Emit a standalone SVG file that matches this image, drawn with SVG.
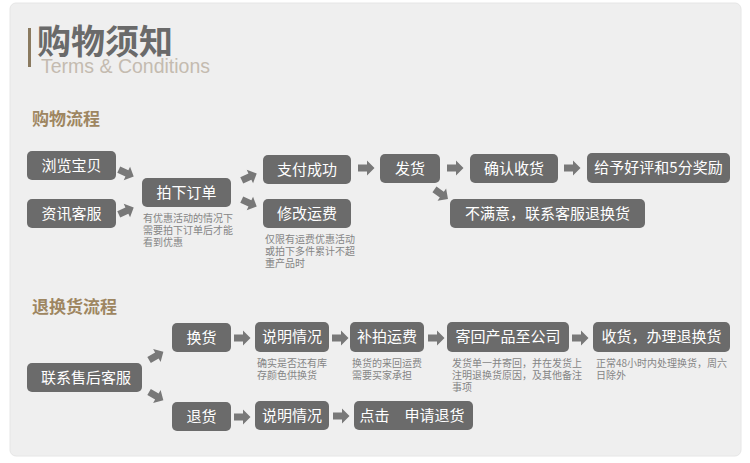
<svg xmlns="http://www.w3.org/2000/svg" width="750" height="463" viewBox="0 0 750 463">
<style>
.box{fill:#6b6b6b}
.bt{font-family:"Noto Sans CJK SC","Noto Sans",sans-serif;font-size:15px;fill:#ffffff;text-anchor:middle}
.note{font-family:"Noto Sans CJK SC","Noto Sans",sans-serif;font-size:10px;fill:#858585}
.sec{font-family:"Noto Sans CJK SC","Noto Sans",sans-serif;font-size:17px;font-weight:bold;fill:#9e8661}
.arr{fill:#787878}
</style>
<defs>
<path id="a" d="M-8,-3.5 L1,-3.5 L1,-7.5 L8.5,0 L1,7.5 L1,3.5 L-8,3.5 Z"/>
</defs>
<rect x="0" y="0" width="750" height="463" fill="#ffffff"/>
<rect x="10" y="3" width="731" height="453" rx="6" fill="#efefef" stroke="#e6e6e6" stroke-width="1"/>
<g id="title">
<rect x="28" y="28" width="3" height="39" fill="#8a7a60"/>
<text x="37" y="54" font-family="'Noto Sans CJK SC','Noto Sans',sans-serif" font-size="34" font-weight="bold" fill="#6a6a6a">购物须知</text>
<text x="41" y="73" font-family="'Liberation Sans',Arial,sans-serif" font-size="19.5" fill="#c4bbb0">Terms &amp; Conditions</text>
</g>
<text class="sec" x="32" y="125">购物流程</text>
<text class="sec" x="32" y="313">退换货流程</text>

<g id="n-browse"><rect class="box" x="27" y="151" width="89" height="29" rx="5"/><text class="bt" x="71.5" y="171">浏览宝贝</text></g>
<g id="n-consult"><rect class="box" x="27" y="199" width="89" height="29" rx="5"/><text class="bt" x="71.5" y="219">资讯客服</text></g>
<g id="n-order"><rect class="box" x="142" y="178" width="89" height="29" rx="5"/><text class="bt" x="186.5" y="198">拍下订单</text>
<text class="note" x="143" y="222">有优惠活动的情况下</text><text class="note" x="143" y="234">需要拍下订单后才能</text><text class="note" x="143" y="246">看到优惠</text></g>
<g id="n-pay"><rect class="box" x="263" y="155" width="88" height="29" rx="5"/><text class="bt" x="307" y="175">支付成功</text></g>
<g id="n-fee"><rect class="box" x="263" y="199" width="88" height="29" rx="5"/><text class="bt" x="307" y="219">修改运费</text>
<text class="note" x="265" y="243">仅限有运费优惠活动</text><text class="note" x="265" y="255">或拍下多件累计不超</text><text class="note" x="265" y="267">重产品时</text></g>
<g id="n-ship"><rect class="box" x="380" y="154" width="60" height="29" rx="5"/><text class="bt" x="410" y="174">发货</text></g>
<g id="n-confirm"><rect class="box" x="470" y="154" width="88" height="29" rx="5"/><text class="bt" x="514" y="174">确认收货</text></g>
<g id="n-rate"><rect class="box" x="587" y="153" width="143" height="30" rx="5"/><text class="bt" x="658.5" y="173">给予好评和5分奖励</text></g>
<g id="n-unhappy"><rect class="box" x="450" y="199" width="195" height="29" rx="5"/><text class="bt" x="547.5" y="219">不满意，联系客服退换货</text></g>

<g id="n-contact"><rect class="box" x="27" y="363" width="115" height="29" rx="5"/><text class="bt" x="86" y="383">联系售后客服</text></g>
<g id="n-exchange"><rect class="box" x="172" y="323" width="59" height="29" rx="5"/><text class="bt" x="201.5" y="343">换货</text></g>
<g id="n-return"><rect class="box" x="172" y="402" width="59" height="29" rx="5"/><text class="bt" x="201.5" y="422">退货</text></g>
<g id="n-explain1"><rect class="box" x="255" y="322" width="74" height="30" rx="5"/><text class="bt" x="292" y="342">说明情况</text>
<text class="note" x="257" y="367">确实是否还有库</text><text class="note" x="257" y="379">存颜色供换货</text></g>
<g id="n-extra"><rect class="box" x="350" y="322" width="74" height="30" rx="5"/><text class="bt" x="387" y="342">补拍运费</text>
<text class="note" x="352" y="367">换货的来回运费</text><text class="note" x="352" y="379">需要买家承担</text></g>
<g id="n-sendback"><rect class="box" x="447" y="322" width="122" height="30" rx="5"/><text class="bt" x="508" y="342">寄回产品至公司</text>
<text class="note" x="452" y="367" font-size="9">发货单一并寄回，并在发货上</text><text class="note" x="452" y="379" font-size="9">注明退换货原因，及其他备注</text><text class="note" x="452" y="391" font-size="9">事项</text></g>
<g id="n-receive"><rect class="box" x="593" y="322" width="137" height="30" rx="5"/><text class="bt" x="661.5" y="342">收货，办理退换货</text>
<text class="note" x="596" y="367">正常48小时内处理换货，周六</text><text class="note" x="596" y="379">日除外</text></g>
<g id="n-explain2"><rect class="box" x="255" y="401" width="74" height="29" rx="5"/><text class="bt" x="292" y="421">说明情况</text></g>
<g id="n-apply"><rect class="box" x="354" y="401" width="119" height="29" rx="5"/><text class="bt" x="412" y="421">点击　申请退货</text></g>

<g id="connectors" class="arr">
<use href="#a" transform="translate(126,173) rotate(25)"/>
<use href="#a" transform="translate(126,211) rotate(-25)"/>
<use href="#a" transform="translate(249,177) rotate(-25)"/>
<use href="#a" transform="translate(249,203) rotate(25)"/>
<use href="#a" transform="translate(366,168)"/>
<use href="#a" transform="translate(455,168)"/>
<use href="#a" transform="translate(441,194) rotate(35)"/>
<use href="#a" transform="translate(572,168)"/>
<use href="#a" transform="translate(156,356) rotate(-30)"/>
<use href="#a" transform="translate(156,396) rotate(30)"/>
<use href="#a" transform="translate(242,338)"/>
<use href="#a" transform="translate(340,338)"/>
<use href="#a" transform="translate(436,338)"/>
<use href="#a" transform="translate(580,338)"/>
<use href="#a" transform="translate(242,417)"/>
<use href="#a" transform="translate(341,416)"/>
</g>
</svg>
